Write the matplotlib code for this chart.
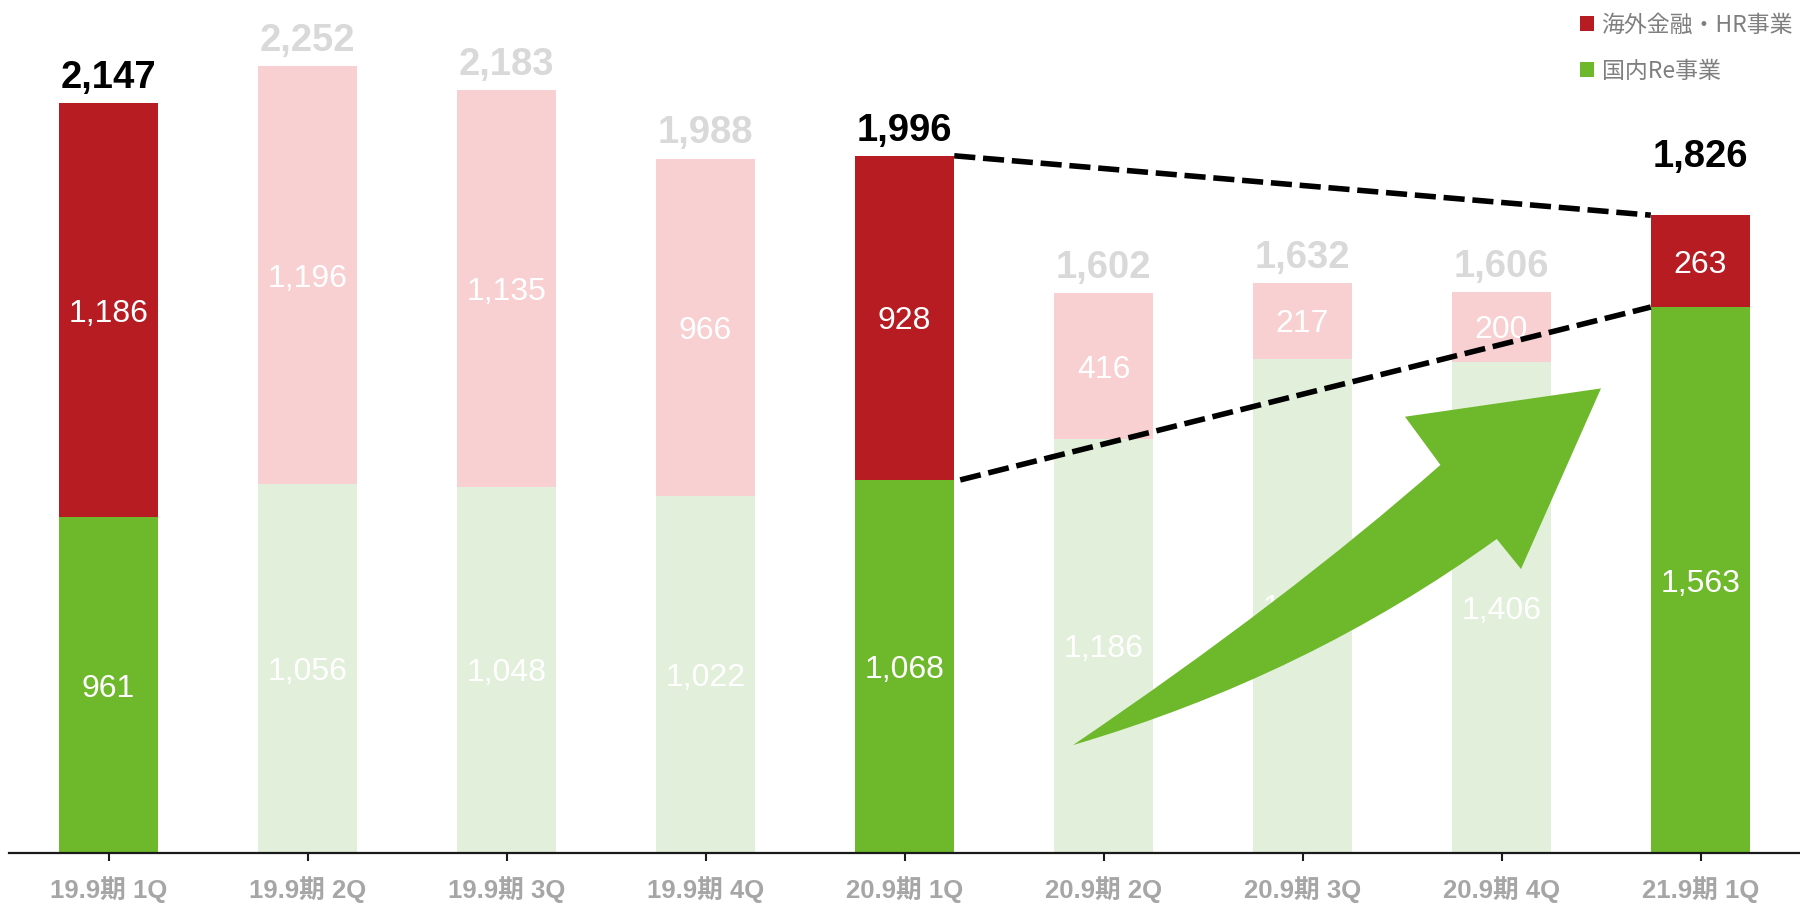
import matplotlib
matplotlib.use("Agg")
import matplotlib.pyplot as plt
from matplotlib.path import Path
from matplotlib.patches import PathPatch

# ---- data -------------------------------------------------------------
categories = ['19.9期 1Q', '19.9期 2Q', '19.9期 3Q', '19.9期 4Q',
              '20.9期 1Q', '20.9期 2Q', '20.9期 3Q', '20.9期 4Q', '21.9期 1Q']
domestic = [961, 1056, 1048, 1022, 1068, 1186, 1415, 1406, 1563]   # 国内Re事業
overseas = [1186, 1196, 1135, 966, 928, 416, 217, 200, 263]       # 海外金融・HR事業
totals = [2147, 2252, 2183, 1988, 1996, 1602, 1632, 1606, 1826]
highlight = [0, 4, 8]
series_names = ['海外金融・HR事業', '国内Re事業']

# ---- style ------------------------------------------------------------
RED, RED_FADE = '#B71C23', '#F8D0D2'
GREEN, GREEN_FADE = '#6EB92B', '#E2EFDA'
TOTAL_FADE = '#D9D9D9'

fig = plt.figure(figsize=(18, 9.09), dpi=100)
ax = fig.add_axes([0.005, 56 / 909, 0.995, 853 / 909])
ax.set_xlim(-0.5, 8.5)
ax.set_ylim(0, 2442)

x = list(range(len(categories)))
dom_colors = [GREEN if i in highlight else GREEN_FADE for i in x]
ovs_colors = [RED if i in highlight else RED_FADE for i in x]
width = 0.5

bd = ax.bar(x, domestic, width, color=dom_colors, zorder=2)
bo = ax.bar(x, overseas, width, bottom=domestic, color=ovs_colors, zorder=2)

# segment values
for i in x:
    ax.text(i, domestic[i] / 2, f'{domestic[i]:,}', ha='center', va='center_baseline',
            color='white', fontsize=23, family='Liberation Sans', zorder=3)
    ax.text(i, domestic[i] + overseas[i] / 2, f'{overseas[i]:,}', ha='center',
            va='center_baseline', color='white', fontsize=23,
            family='Liberation Sans', zorder=3)

# totals above the bars
for i in x:
    hi = i in highlight
    off = 35 if i == 8 else 11
    ax.annotate(f'{totals[i]:,}', (i, totals[i]), xytext=(0, off),
                textcoords='offset points', ha='center', va='baseline',
                fontsize=27.5, fontweight='bold', family='Liberation Sans',
                color='black' if hi else TOTAL_FADE, zorder=3)

# dashed connectors between 20.9期 1Q and 21.9期 1Q
a, b = 4, 8
dash = (0, (3.8, 1.4))
ax.plot([a + width / 2, b - width / 2], [totals[a], totals[b]], color='black',
        lw=4, linestyle=dash, zorder=4)
ax.plot([a + width / 2 + 0.03, b - width / 2], [domestic[a], domestic[b]],
        color='black', lw=4, linestyle=dash, zorder=4)

# curved growth arrow
verts = [(4.847, 309), (5.924, 725), (6.693, 1111), (6.515, 1249), (7.500, 1330),
         (7.098, 813), (6.976, 899), (6.023, 506), (4.847, 309), (4.847, 309)]
codes = [Path.MOVETO, Path.CURVE3, Path.CURVE3, Path.LINETO, Path.LINETO,
         Path.LINETO, Path.LINETO, Path.CURVE3, Path.CURVE3, Path.CLOSEPOLY]
ax.add_patch(PathPatch(Path(verts, codes), facecolor=GREEN, edgecolor='none', zorder=5))

# axes cosmetics
for s in ('left', 'right', 'top'):
    ax.spines[s].set_visible(False)
ax.spines['bottom'].set_linewidth(1.6)
ax.spines['bottom'].set_color('#1a1a1a')
ax.set_yticks([])
ax.set_xticks(x, categories)
ax.tick_params(axis='x', direction='out', length=6, width=1.5, color='#1a1a1a', pad=11)
for lbl in ax.get_xticklabels():
    lbl.set_fontfamily(['Liberation Sans', 'Noto Sans CJK JP'])
    lbl.set_fontweight('bold')
    lbl.set_fontsize(18.5)
    lbl.set_color('#A6A6A6')

leg = fig.legend([bo[0], bd[0]], series_names, loc='upper right',
                 bbox_to_anchor=(1.0, 0.9924), frameon=False, borderaxespad=0.1,
                 borderpad=0.2, handlelength=0.6, handleheight=0.6,
                 handletextpad=0.35, labelspacing=1.0,
                 prop={'family': ['Noto Sans CJK JP', 'DejaVu Sans'], 'size': 16.5})
for t in leg.get_texts():
    t.set_color('#7F7F7F')

fig.savefig('out.png', dpi=100)
